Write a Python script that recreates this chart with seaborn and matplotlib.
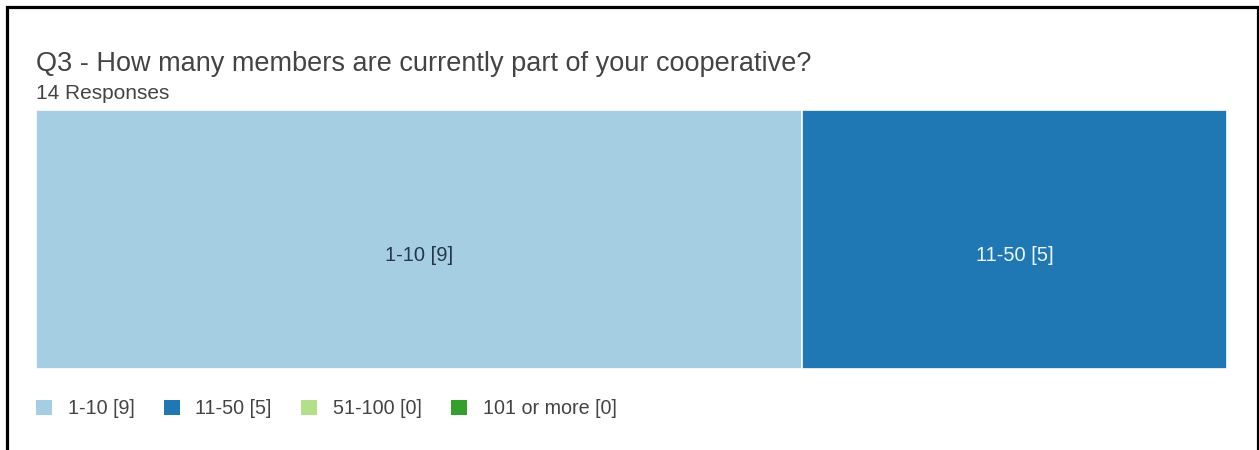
import matplotlib
matplotlib.use("Agg")
import matplotlib.pyplot as plt
import seaborn as sns
import pandas as pd
import numpy as np
from matplotlib.patches import Patch, Rectangle

# Data
categories = ["1-10", "11-50", "51-100", "101 or more"]
counts = [9, 5, 0, 0]
title = "Q3 - How many members are currently part of your cooperative?"
subtitle = "14 Responses"

sns.set_theme(style="white")
plt.rcParams['font.family'] = ['Liberation Sans', 'DejaVu Sans']

colors = sns.color_palette("Paired", 4)
labels = [f"{c} [{n}]" for c, n in zip(categories, counts)]
cum = np.cumsum(counts)
lefts = cum - np.array(counts)
total = int(sum(counts))

df = pd.DataFrame({"cat": categories, "count": counts, "cum": cum, "label": labels})

W, H = 1259, 450
fig = plt.figure(figsize=(W / 100, H / 100), dpi=100)
ax = fig.add_axes([36 / W, 1 - 369 / H, (1227 - 36) / W, (369 - 110) / H])

# Draw stacked bar: cumulative values drawn from largest to smallest
for i in reversed(range(len(df))):
    sub = pd.DataFrame({"v": [df["cum"].iloc[i]], "row": [""]})
    sns.barplot(data=sub, x="v", y="row", orient="h", color=colors[i],
                width=1.0, saturation=1, edgecolor="white", linewidth=1.2, ax=ax)

ax.set_xlim(0, total)
ax.set_ylim(0.5, -0.5)
ax.axis("off")

# bar labels
txt_colors = ["#26384a", "#eef6fb", "#26384a", "#eef6fb"]
for i in range(len(df)):
    if counts[i] > 0:
        ax.text(lefts[i] + counts[i] / 2, 0.06, labels[i], ha="center", va="center",
                fontsize=14.5, color=txt_colors[i])

# title and subtitle
fig.text(36 / W, 1 - 71 / H, title, fontsize=19.5, color="#444444", ha="left", va="baseline")
fig.text(36 / W, 1 - 99 / H, subtitle, fontsize=15, color="#444444", ha="left", va="baseline")

# legend
handles = [Patch(facecolor=colors[i], edgecolor="none", label=labels[i]) for i in range(4)]
fig.legend(handles=handles, loc="center left", bbox_to_anchor=(36 / W, 1 - 409 / H),
           ncol=4, frameon=False, fontsize=14.2, handlelength=0.8, handleheight=0.8,
           handletextpad=0.8, columnspacing=1.5, borderpad=0, borderaxespad=0,
           labelcolor="#444444")

# outer frame (top, left, right)
fig.add_artist(Rectangle((6.5 / W, -0.2), (1257.5 - 6.5) / W, 1.2 - 6.5 / H,
                         transform=fig.transFigure, fill=False, edgecolor="black",
                         linewidth=2.3))

fig.savefig("out.png", dpi=100)
